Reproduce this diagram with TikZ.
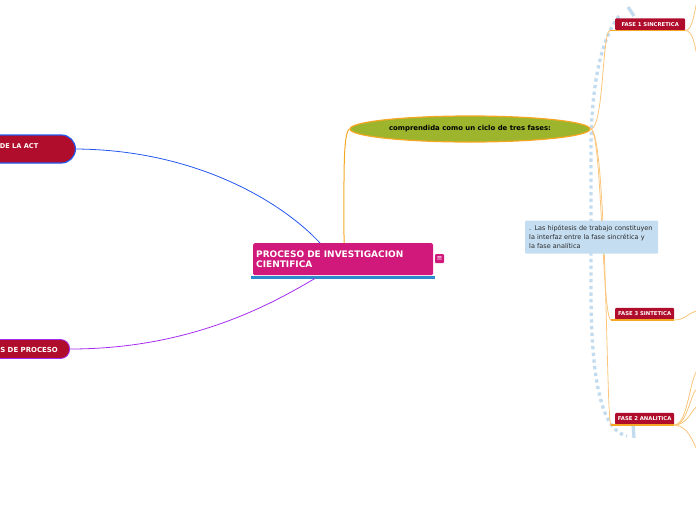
\documentclass[tikz,border=0pt]{standalone}
\usepackage{fontspec}
\setmainfont{DejaVu Sans}
\usetikzlibrary{shapes.geometric}
\definecolor{magentam}{HTML}{D0197A}
\definecolor{crimson}{HTML}{B00D2C}
\definecolor{blueb}{HTML}{2457F0}
\definecolor{barblue}{HTML}{2A8ACB}
\definecolor{purplel}{HTML}{A52CF0}
\definecolor{olive}{HTML}{9DB52D}
\definecolor{orangem}{HTML}{F5A623}
\definecolor{orangel}{HTML}{FAC57A}
\definecolor{notebg}{HTML}{C5DDF0}
\definecolor{dotblue}{HTML}{C3DBEE}
\definecolor{notetext}{HTML}{2B2B2B}
\tikzset{
  mainbox/.style={fill=magentam, text=white, rounded corners=1.5pt, minimum width=180pt, minimum height=32pt,
    text width=174pt, inner xsep=3pt, inner ysep=0pt, align=left,
    font=\fontsize{9}{10.5}\selectfont\bfseries},
  leftbox/.style={fill=crimson, inner sep=0pt},
  lefttext/.style={text=white, inner sep=0pt, anchor=east, font=\fontsize{6.6}{8}\selectfont\bfseries},
  fasebox/.style={fill=crimson, text=white, rounded corners=1.2pt, inner sep=0pt, minimum height=12pt,
    anchor=south west, font=\fontsize{5.3}{6}\selectfont\bfseries},
  notebox/.style={fill=notebg, text=notetext, rounded corners=1pt, align=left, inner xsep=4pt, inner ysep=3pt,
    minimum width=133pt, minimum height=33pt, text width=125pt, font=\fontsize{6.5}{9}\selectfont},
  ovalbox/.style={ellipse, fill=olive, draw=orangem, line width=1.2pt, minimum width=240pt, minimum height=26pt,
    inner sep=0pt, font=\fontsize{6.9}{8}\selectfont\bfseries},
  thinor/.style={draw=orangel, line width=0.8pt},
  underor/.style={draw=orangem, line width=1.4pt},
  dotline/.style={draw=dotblue, line width=3.3pt, dash pattern=on 3.3pt off 3.4pt},
  tickline/.style={draw=dotblue, line width=3.3pt},
}
\begin{document}
\begin{tikzpicture}[x=1pt,y=-1pt]
\useasboundingbox (0,0) rectangle (696,520);
\clip (0,0) rectangle (696,520);

% dotted boundary
\draw[dotline] (619,16) .. controls (600,40) and (591,90) .. (591,150) -- (591,290) .. controls (591,390) and (604,431) .. (627,436);
\draw[tickline] (628,7) -- (634,16);
\draw[tickline] (633,423) -- (634,438);

% main node
\node[mainbox, anchor=north west] (main) at (253,243) {PROCESO DE INVESTIGACION\\CIENTIFICA};
\draw[barblue, line width=3pt] ([xshift=-2pt,yshift=-2pt]main.south west) coordinate (barL) -- ([xshift=2pt,yshift=-2pt]main.south east) coordinate (barR);
\node[fill=magentam, text=white, rounded corners=1pt, minimum size=9pt, inner sep=0pt, font=\fontsize{7}{7}\selectfont] (icon) at (439.5,258.5) {≡};

\coordinate (mB) at ([xshift=67pt]main.north west);
\coordinate (mO) at ([xshift=91pt]main.north west);
\coordinate (mP) at ([xshift=62pt,yshift=-3pt]main.south west);

% left nodes
\node[leftbox, draw=blueb, line width=1.2pt, rounded corners=14pt, minimum height=28pt, minimum width=120pt, anchor=east] (l1) at (76,149) {};
\node[lefttext] (t1) at (38.5,146) {DE LA ACT};
\node[leftbox, draw=purplel, line width=0.8pt, rounded corners=9pt, minimum height=19pt, minimum width=110pt, anchor=east] (l2) at (70,349) {};
\node[lefttext, font=\fontsize{6.95}{8}\selectfont\bfseries] (t2) at (58,349.5) {S DE PROCESO};

\draw[blueb, line width=0.8pt] (l1.east) .. controls (200,150) and (285,205) .. (mB);
\draw[purplel, line width=0.8pt] (l2.east) .. controls (190,349) and (270,305) .. (mP);

% ellipse
\node[ovalbox] (ell) at (470,129) {comprendida como un ciclo de tres fases:};
\draw[orangem, line width=1pt] (mO) .. controls (344,175) and (343,133) .. (ell.west);

% fases
\node[fasebox, minimum width=70pt] (f1) at (615,30.5) {FASE 1 SINCRETICA};
\node[fasebox, minimum width=59pt] (f3) at (615,320) {FASE 3 SINTETICA};
\node[fasebox, minimum width=59pt] (f2) at (615,425) {FASE 2 ANALITICA};

\coordinate (f1L) at ([xshift=-5pt]f1.south west);
\coordinate (f3L) at ([xshift=-4pt]f3.south west);
\coordinate (f2L) at ([xshift=-4pt]f2.south west);

\draw[thinor] (ell.east) .. controls (604,129) and (602,30.5) .. (f1L);
\draw[thinor] (ell.east) .. controls (602,129) and (602,320) .. (f3L);
\draw[thinor] (ell.east) .. controls (607,129) and (606,425) .. (f2L);

\draw[underor] (f1L) -- (f1.south east);
\draw[underor] (f3L) -- (f3.south east);
\draw[underor] (f2L) -- (f2.south east);

% onward branches (off picture)
\coordinate (e1) at (698,-3);
\coordinate (e2) at (698,62);
\coordinate (e3) at (698,311);
\coordinate (e4) at (698,370);
\coordinate (e5) at (698,388);
\coordinate (e6) at (698,406);
\coordinate (e7) at (698,452);
\draw[thinor] (f1.south east) .. controls (693,30) and (694,12) .. (e1);
\draw[thinor] (f1.south east) .. controls (693,31) and (695,45) .. (e2);
\draw[thinor] (f3.south east) .. controls (686,320) and (688,312) .. (e3);
\draw[thinor] (f2.south east) .. controls (688,425) and (690,375) .. (e4);
\draw[thinor] (f2.south east) .. controls (688,425) and (690,392) .. (e5);
\draw[thinor] (f2.south east) .. controls (688,425) and (692,408) .. (e6);
\draw[thinor] (f2.south east) .. controls (688,426) and (692,440) .. (e7);

% note
\node[notebox, anchor=north west] (note) at (525,220.5) {. Las hipótesis de trabajo constituyen\\la interfaz entre la fase sincrética y\\la fase analítica};
\end{tikzpicture}
\end{document}
